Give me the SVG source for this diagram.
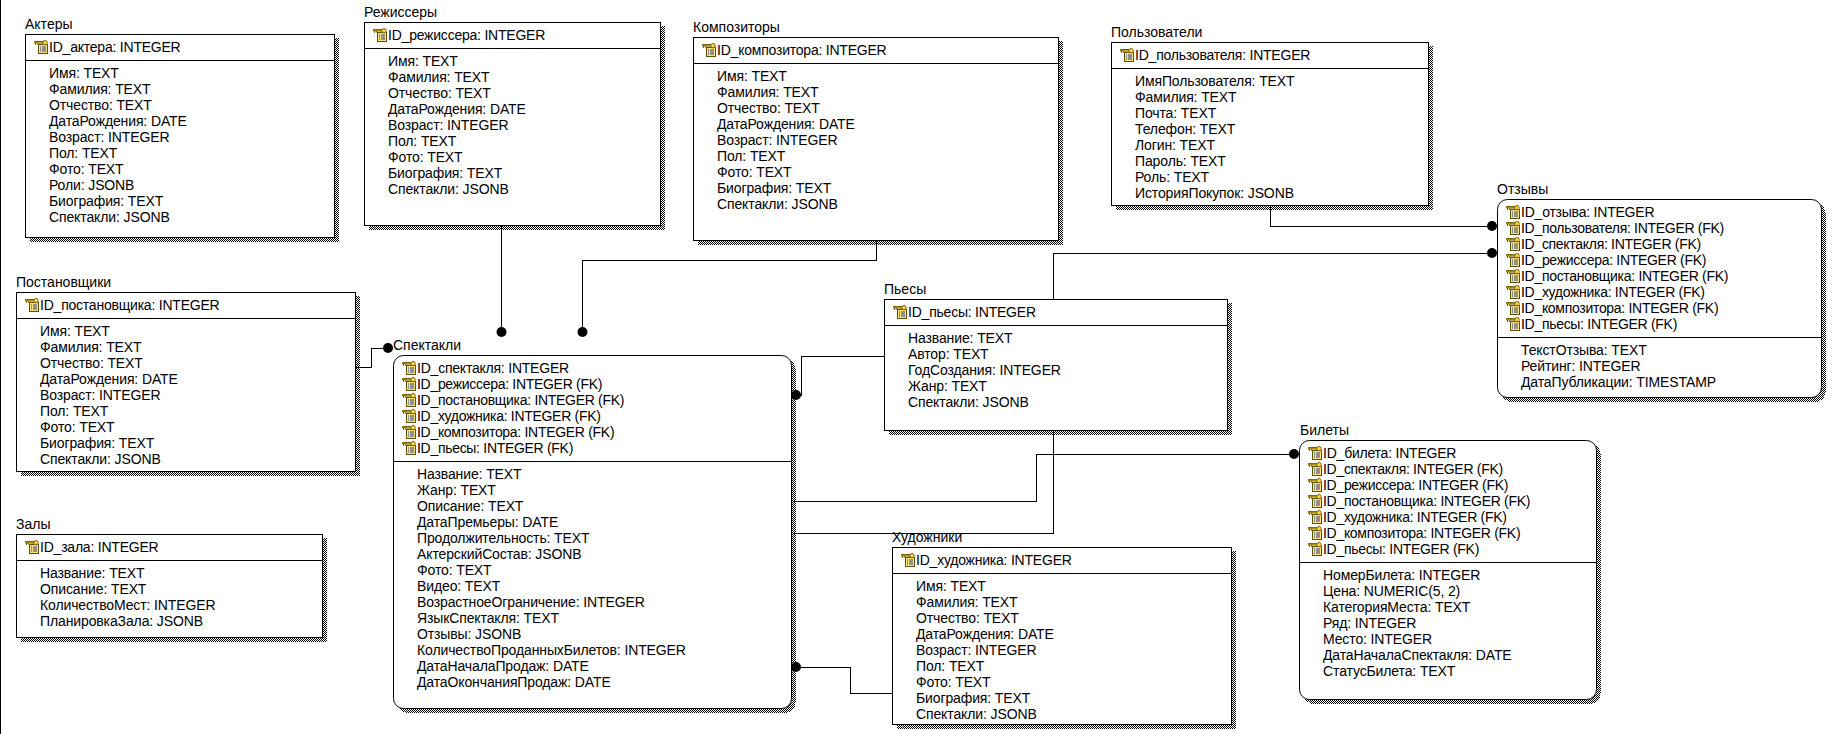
<svg xmlns="http://www.w3.org/2000/svg" width="1833" height="734" viewBox="0 0 1833 734">
<style>
text{font-family:"Liberation Sans",Arial,sans-serif;font-size:14px;letter-spacing:-0.12px;fill:#000}
text.n{letter-spacing:0}
text.i{letter-spacing:-0.22px}
text.f{letter-spacing:-0.3px}
.b{fill:#fff;stroke:#000;stroke-width:1;shape-rendering:crispEdges}
.rb{fill:#fff;stroke:#000;stroke-width:1}
.s{fill:url(#d);shape-rendering:crispEdges}
.l{stroke:#000;stroke-width:1;shape-rendering:crispEdges;fill:none}
.c{fill:none;stroke:#000;stroke-width:1;shape-rendering:crispEdges}
.dot{fill:#000}
</style>
<defs>
<pattern id="d" width="2" height="2" patternUnits="userSpaceOnUse"><rect width="2" height="2" fill="#fff"/><rect width="1" height="1" fill="#000"/><rect x="1" y="1" width="1" height="1" fill="#000"/></pattern>
<symbol id="k" width="15" height="14" viewBox="0 0 15 14" overflow="visible">
<rect x="4.5" y="4.5" width="9" height="9" fill="#ffe27a" stroke="#5f5000"/>
<path d="M6 7h1M6 9h1M6 11h1M8 7h4M8 9h4M8 11h4" stroke="#2040a0"/>
<path d="M0.5 1.5h9v1.5h-9zM1.5 3v2M3.5 3v1.5" stroke="#7a6200" fill="#e8b923"/>
<circle cx="11" cy="2.7" r="2.2" fill="#ffd84d" stroke="#7a6200"/>
</symbol>
</defs>
<rect width="1833" height="734" fill="#fff"/>
<rect x="0" y="0" width="1" height="734" fill="#000"/>

<g id="actors">
<rect class="s" x="29.5" y="38" width="309" height="204"/><rect class="b" x="25.5" y="34.5" width="309" height="203"/>
<path class="l" d="M25.5 60.5H334.5"/>
<text class="n" x="25" y="29">Актеры</text>
<use href="#k" x="34" y="40"/><text class="i" x="49" y="52">ID_актера: INTEGER</text>
<text x="49" y="78">Имя: TEXT</text><text x="49" y="94">Фамилия: TEXT</text><text x="49" y="110">Отчество: TEXT</text><text x="49" y="126">ДатаРождения: DATE</text><text x="49" y="142">Возраст: INTEGER</text><text x="49" y="158">Пол: TEXT</text><text x="49" y="174">Фото: TEXT</text><text x="49" y="190">Роли: JSONB</text><text x="49" y="206">Биография: TEXT</text><text x="49" y="222">Спектакли: JSONB</text>
</g>

<g id="directors">
<rect class="s" x="368.5" y="26" width="296" height="204"/><rect class="b" x="364.5" y="22.5" width="296" height="203"/>
<path class="l" d="M364.5 48.5H660.5"/>
<text class="n" x="364" y="17">Режиссеры</text>
<use href="#k" x="373" y="28"/><text class="i" x="388" y="40">ID_режиссера: INTEGER</text>
<text x="388" y="66">Имя: TEXT</text><text x="388" y="82">Фамилия: TEXT</text><text x="388" y="98">Отчество: TEXT</text><text x="388" y="114">ДатаРождения: DATE</text><text x="388" y="130">Возраст: INTEGER</text><text x="388" y="146">Пол: TEXT</text><text x="388" y="162">Фото: TEXT</text><text x="388" y="178">Биография: TEXT</text><text x="388" y="194">Спектакли: JSONB</text>
</g>

<g id="composers">
<rect class="s" x="697.5" y="41" width="365" height="204"/><rect class="b" x="693.5" y="37.5" width="365" height="203"/>
<path class="l" d="M693.5 63.5H1058.5"/>
<text class="n" x="693" y="32">Композиторы</text>
<use href="#k" x="702" y="43"/><text class="i" x="717" y="55">ID_композитора: INTEGER</text>
<text x="717" y="81">Имя: TEXT</text><text x="717" y="97">Фамилия: TEXT</text><text x="717" y="113">Отчество: TEXT</text><text x="717" y="129">ДатаРождения: DATE</text><text x="717" y="145">Возраст: INTEGER</text><text x="717" y="161">Пол: TEXT</text><text x="717" y="177">Фото: TEXT</text><text x="717" y="193">Биография: TEXT</text><text x="717" y="209">Спектакли: JSONB</text>
</g>

<g id="users">
<rect class="s" x="1115.5" y="46" width="317" height="164"/><rect class="b" x="1111.5" y="42.5" width="317" height="163"/>
<path class="l" d="M1111.5 68.5H1428.5"/>
<text class="n" x="1111" y="37">Пользователи</text>
<use href="#k" x="1120" y="48"/><text class="i" x="1135" y="60">ID_пользователя: INTEGER</text>
<text x="1135" y="86">ИмяПользователя: TEXT</text><text x="1135" y="102">Фамилия: TEXT</text><text x="1135" y="118">Почта: TEXT</text><text x="1135" y="134">Телефон: TEXT</text><text x="1135" y="150">Логин: TEXT</text><text x="1135" y="166">Пароль: TEXT</text><text x="1135" y="182">Роль: TEXT</text><text x="1135" y="198">ИсторияПокупок: JSONB</text>
</g>

<g id="reviews">
<rect class="s" x="1501.5" y="203" width="324" height="199" rx="10"/><rect class="rb" x="1497.5" y="199.5" width="324" height="198" rx="10"/>
<path class="l" d="M1497.5 337.5H1821.5"/>
<text class="n" x="1497" y="194">Отзывы</text>
<use href="#k" x="1506" y="205"/><text class="i" x="1521" y="217">ID_отзыва: INTEGER</text>
<use href="#k" x="1506" y="221"/><text class="f" x="1521" y="233">ID_пользователя: INTEGER (FK)</text>
<use href="#k" x="1506" y="237"/><text class="f" x="1521" y="249">ID_спектакля: INTEGER (FK)</text>
<use href="#k" x="1506" y="253"/><text class="f" x="1521" y="265">ID_режиссера: INTEGER (FK)</text>
<use href="#k" x="1506" y="269"/><text class="f" x="1521" y="281">ID_постановщика: INTEGER (FK)</text>
<use href="#k" x="1506" y="285"/><text class="f" x="1521" y="297">ID_художника: INTEGER (FK)</text>
<use href="#k" x="1506" y="301"/><text class="f" x="1521" y="313">ID_композитора: INTEGER (FK)</text>
<use href="#k" x="1506" y="317"/><text class="f" x="1521" y="329">ID_пьесы: INTEGER (FK)</text>
<text x="1521" y="355">ТекстОтзыва: TEXT</text><text x="1521" y="371">Рейтинг: INTEGER</text><text x="1521" y="387">ДатаПубликации: TIMESTAMP</text>
</g>

<g id="stagers">
<rect class="s" x="20.5" y="296" width="339" height="180"/><rect class="b" x="16.5" y="292.5" width="339" height="179"/>
<path class="l" d="M16.5 318.5H355.5"/>
<text class="n" x="16" y="287">Постановщики</text>
<use href="#k" x="25" y="298"/><text class="i" x="40" y="310">ID_постановщика: INTEGER</text>
<text x="40" y="336">Имя: TEXT</text><text x="40" y="352">Фамилия: TEXT</text><text x="40" y="368">Отчество: TEXT</text><text x="40" y="384">ДатаРождения: DATE</text><text x="40" y="400">Возраст: INTEGER</text><text x="40" y="416">Пол: TEXT</text><text x="40" y="432">Фото: TEXT</text><text x="40" y="448">Биография: TEXT</text><text x="40" y="464">Спектакли: JSONB</text>
</g>

<g id="halls">
<rect class="s" x="20.5" y="538" width="306" height="104"/><rect class="b" x="16.5" y="534.5" width="306" height="103"/>
<path class="l" d="M16.5 560.5H322.5"/>
<text class="n" x="16" y="529">Залы</text>
<use href="#k" x="25" y="540"/><text class="i" x="40" y="552">ID_зала: INTEGER</text>
<text x="40" y="578">Название: TEXT</text><text x="40" y="594">Описание: TEXT</text><text x="40" y="610">КоличествоМест: INTEGER</text><text x="40" y="626">ПланировкаЗала: JSONB</text>
</g>

<g id="performances">
<rect class="s" x="397.5" y="359" width="398" height="354" rx="10"/><rect class="rb" x="393.5" y="355.5" width="398" height="353" rx="10"/>
<path class="l" d="M393.5 461.5H791.5"/>
<text class="n" x="393" y="350">Спектакли</text>
<use href="#k" x="402" y="361"/><text class="i" x="417" y="373">ID_спектакля: INTEGER</text>
<use href="#k" x="402" y="377"/><text class="f" x="417" y="389">ID_режиссера: INTEGER (FK)</text>
<use href="#k" x="402" y="393"/><text class="f" x="417" y="405">ID_постановщика: INTEGER (FK)</text>
<use href="#k" x="402" y="409"/><text class="f" x="417" y="421">ID_художника: INTEGER (FK)</text>
<use href="#k" x="402" y="425"/><text class="f" x="417" y="437">ID_композитора: INTEGER (FK)</text>
<use href="#k" x="402" y="441"/><text class="f" x="417" y="453">ID_пьесы: INTEGER (FK)</text>
<text x="417" y="479">Название: TEXT</text><text x="417" y="495">Жанр: TEXT</text><text x="417" y="511">Описание: TEXT</text><text x="417" y="527">ДатаПремьеры: DATE</text><text x="417" y="543">Продолжительность: TEXT</text><text x="417" y="559">АктерскийСостав: JSONB</text><text x="417" y="575">Фото: TEXT</text><text x="417" y="591">Видео: TEXT</text><text x="417" y="607">ВозрастноеОграничение: INTEGER</text><text x="417" y="623">ЯзыкСпектакля: TEXT</text><text x="417" y="639">Отзывы: JSONB</text><text x="417" y="655">КоличествоПроданныхБилетов: INTEGER</text><text x="417" y="671">ДатаНачалаПродаж: DATE</text><text x="417" y="687">ДатаОкончанияПродаж: DATE</text>
</g>

<g id="plays">
<rect class="s" x="888.5" y="303" width="343" height="132"/><rect class="b" x="884.5" y="299.5" width="343" height="131"/>
<path class="l" d="M884.5 325.5H1227.5"/>
<text class="n" x="884" y="294">Пьесы</text>
<use href="#k" x="893" y="305"/><text class="i" x="908" y="317">ID_пьесы: INTEGER</text>
<text x="908" y="343">Название: TEXT</text><text x="908" y="359">Автор: TEXT</text><text x="908" y="375">ГодСоздания: INTEGER</text><text x="908" y="391">Жанр: TEXT</text><text x="908" y="407">Спектакли: JSONB</text>
</g>

<g id="artists">
<rect class="s" x="896.5" y="551" width="339" height="178"/><rect class="b" x="892.5" y="547.5" width="339" height="177"/>
<path class="l" d="M892.5 573.5H1231.5"/>
<text class="n" x="892" y="542">Художники</text>
<use href="#k" x="901" y="553"/><text class="i" x="916" y="565">ID_художника: INTEGER</text>
<text x="916" y="591">Имя: TEXT</text><text x="916" y="607">Фамилия: TEXT</text><text x="916" y="623">Отчество: TEXT</text><text x="916" y="639">ДатаРождения: DATE</text><text x="916" y="655">Возраст: INTEGER</text><text x="916" y="671">Пол: TEXT</text><text x="916" y="687">Фото: TEXT</text><text x="916" y="703">Биография: TEXT</text><text x="916" y="719">Спектакли: JSONB</text>
</g>

<g id="tickets">
<rect class="s" x="1303.5" y="444" width="297" height="260" rx="10"/><rect class="rb" x="1299.5" y="440.5" width="297" height="259" rx="10"/>
<path class="l" d="M1299.5 562.5H1596.5"/>
<text class="n" x="1300" y="435">Билеты</text>
<use href="#k" x="1308" y="446"/><text class="i" x="1323" y="458">ID_билета: INTEGER</text>
<use href="#k" x="1308" y="462"/><text class="f" x="1323" y="474">ID_спектакля: INTEGER (FK)</text>
<use href="#k" x="1308" y="478"/><text class="f" x="1323" y="490">ID_режиссера: INTEGER (FK)</text>
<use href="#k" x="1308" y="494"/><text class="f" x="1323" y="506">ID_постановщика: INTEGER (FK)</text>
<use href="#k" x="1308" y="510"/><text class="f" x="1323" y="522">ID_художника: INTEGER (FK)</text>
<use href="#k" x="1308" y="526"/><text class="f" x="1323" y="538">ID_композитора: INTEGER (FK)</text>
<use href="#k" x="1308" y="542"/><text class="f" x="1323" y="554">ID_пьесы: INTEGER (FK)</text>
<text x="1323" y="580">НомерБилета: INTEGER</text><text x="1323" y="596">Цена: NUMERIC(5, 2)</text><text x="1323" y="612">КатегорияМеста: TEXT</text><text x="1323" y="628">Ряд: INTEGER</text><text x="1323" y="644">Место: INTEGER</text><text x="1323" y="660">ДатаНачалаСпектакля: DATE</text><text x="1323" y="676">СтатусБилета: TEXT</text>
</g>

<g id="connectors">
<path class="c" d="M501.5 225V332"/><circle class="dot" cx="501.5" cy="332" r="5"/>
<path class="c" d="M876.5 240V260.5H582.5V332"/><circle class="dot" cx="582.5" cy="332" r="5"/>
<path class="c" d="M356 367.5H371.5V348.5H388"/><circle class="dot" cx="388" cy="348" r="5"/>
<path class="c" d="M885 356.5H801.5V395H796"/><circle class="dot" cx="796" cy="395" r="5"/>
<path class="c" d="M794 501.5H1036.5V454.5H1294"/><circle class="dot" cx="1294" cy="454" r="5"/>
<path class="c" d="M1053.5 430V533.5H794"/>
<path class="c" d="M1053.5 299V253.5H1492"/><circle class="dot" cx="1492" cy="253" r="5"/>
<path class="c" d="M1270.5 205V226.5H1492"/><circle class="dot" cx="1492" cy="226" r="5"/>
<path class="c" d="M796 667.5H850.5V693.5H892"/><circle class="dot" cx="796" cy="667" r="5"/>
</g>
</svg>
